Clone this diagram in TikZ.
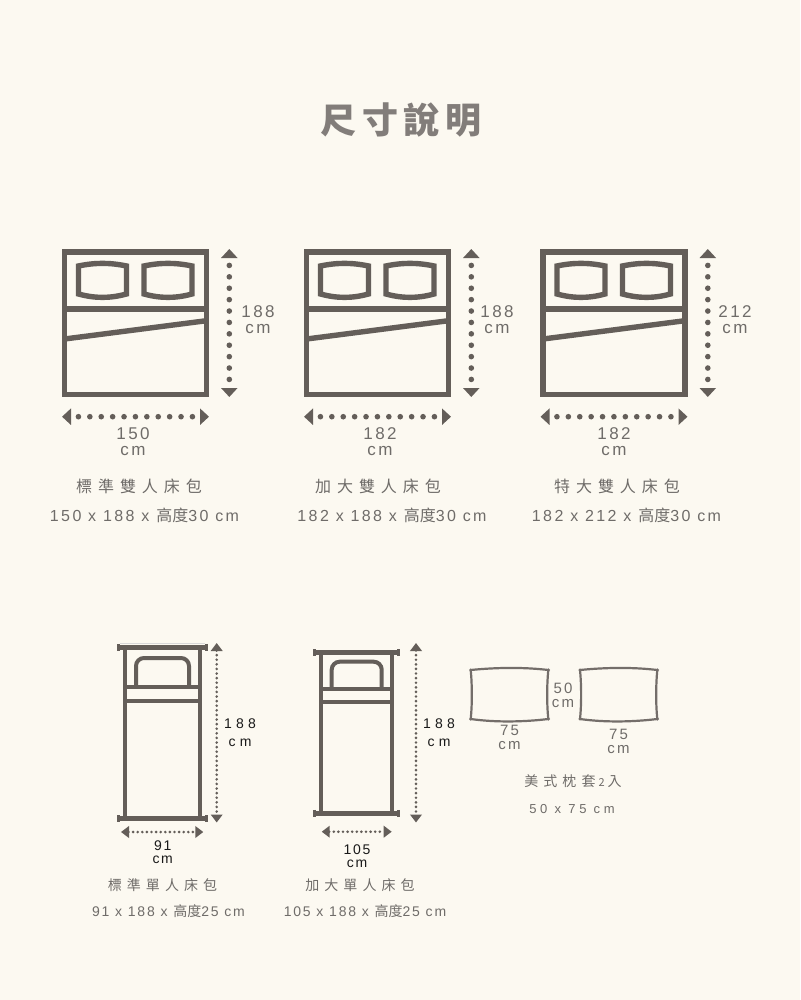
\documentclass[tikz,border=0pt]{standalone}
\usepackage{fontspec}
\setmainfont{Liberation Sans}
\newfontfamily\cjk{Noto Sans CJK TC}
\usetikzlibrary{arrows.meta}
\definecolor{paper}{HTML}{FCF9F1}
\definecolor{bedgrey}{HTML}{645E59}
\definecolor{textgrey}{HTML}{6F6C69}
\definecolor{titlegrey}{HTML}{827D7A}
\newcommand{\track}[1]{\addfontfeature{LetterSpace=#1}}
\tikzstyle{bedline} = [draw=bedgrey, line width=5.4pt, line join=miter]
\tikzstyle{singleline} = [draw=bedgrey, line width=4pt]
\tikzstyle{capline} = [draw=bedgrey, line width=5pt]
\tikzstyle{slipline} = [draw=bedgrey!90, line width=2.2pt, line join=round]
\tikzstyle{dimbig} = [draw=bedgrey, line width=5.6pt, line cap=round,
dash pattern=on 0pt off 11.4pt, dash phase=3.4pt,
{Triangle[width=16pt,length=9pt]}-{Triangle[width=16pt,length=9pt]}]
\tikzstyle{dimsmall} = [draw=bedgrey, line width=2.9pt, line cap=round,
dash pattern=on 0pt off 4.6pt,
{Triangle[width=11.5pt,length=8pt]}-{Triangle[width=11.5pt,length=8pt]}]
\tikzstyle{sizebig} = [text=textgrey, align=center, inner sep=0pt,
font=\fontsize{17}{16}\selectfont\track{14}]
\tikzstyle{sizesmall} = [text=black!90, align=center, inner sep=0pt,
font=\fontsize{14}{12.5}\selectfont\track{12}]
\tikzstyle{sizewide} = [text=black!90, align=center, inner sep=0pt,
font=\fontsize{14}{18}\selectfont\track{30}]
\tikzstyle{sizeslip} = [text=textgrey, align=center, inner sep=0pt,
font=\fontsize{15}{14}\selectfont\track{14}]
\tikzstyle{namebig} = [text=textgrey, inner sep=0pt, font=\cjk\fontsize{16}{16}\selectfont\track{37}]
\tikzstyle{specbig} = [text=textgrey, inner sep=0pt, font=\fontsize{16}{16}\selectfont\track{15}]
\tikzstyle{namesmall} = [text=textgrey, inner sep=0pt, font=\cjk\fontsize{14}{14}\selectfont\track{36}]
\tikzstyle{specsmall} = [text=textgrey, inner sep=0pt, font=\fontsize{14}{14}\selectfont\track{13}]
\begin{document}
\begin{tikzpicture}[x=1pt, y=-1pt]
\useasboundingbox [fill=paper] (0,0) rectangle (800,1000);

% Title
\node [text=titlegrey, inner sep=0pt, font=\cjk\bfseries\fontsize{36}{36}\selectfont\track{15}]
  (title) at (401,120) {尺寸說明};

% Double beds
\foreach \dx/\id/\wide/\high/\wx/\hx/\namex/\specx/\bedname/\spec in {
  0/a/150/188/133/258/139/144.5/標準雙人床包/{150 x 188 x {\cjk 高度}30 cm},
  242/b/182/188/138/255/136/150/加大雙人床包/{182 x 188 x {\cjk 高度}30 cm},
  478.5/c/182/212/135.5/256.5/138.5/148/特大雙人床包/{182 x 212 x {\cjk 高度}30 cm}} {
\begin{scope}[shift={(\dx,0)}]
  \draw [bedline] (64.5,252) rectangle (206.5,394.5);
  \draw [bedline] (64.5,309) -- (206.5,309);
  \draw [bedline] (64.5,339) -- (206.5,320.7);
  \foreach \px in {0,65.5} {
    \draw [bedline, xshift=\px pt] (78.5,266) .. controls (95,262.5) and (110,262.5) .. (126.5,266)
      -- (126.5,294) .. controls (110,298.5) and (95,298.5) .. (78.5,294) -- cycle;
  }
  \coordinate (\id top) at (229.3,249);
  \coordinate (\id bottom) at (229.3,397);
  \coordinate (\id left) at (62,416.7);
  \coordinate (\id right) at (209,416.7);
  \draw [dimbig] (\id top) -- (\id bottom);
  \draw [dimbig] (\id left) -- (\id right);
  \node [sizebig] (\id high) at (\hx,319.5) {\high\\cm};
  \node [sizebig] (\id wide) at (\wx,441.5) {\wide\\cm};
  \node [namebig] (\id name) at (\namex,486) {\bedname};
  \node [specbig] (\id spec) at (\specx,515) {\spec};
\end{scope}
}

% Single beds
\foreach \id/\l/\r/\t/\b/\bandb/\bandc/\pl/\pr/\pt/\vx/\hl/\hr/\hy/\lx/\wide/\wx/\wy/\namex/\specx/\bedname/\spec in {
  s/125/200/647.3/818.7/687.3/701/136/189/658/216.7/121/203.3/832/240/91/162.7/852/162.5/168.5/標準單人床包/{91 x 188 x {\cjk 高度}25 cm},
  l/320.7/392.3/652.7/813.3/689.3/702.3/331.7/381.7/661.7/416/321.7/391.7/831.7/439/105/357/856/360/365/加大單人床包/{105 x 188 x {\cjk 高度}25 cm}} {
  \draw [singleline] (\l,\t) -- (\l,\b);
  \draw [singleline] (\r,\t) -- (\r,\b);
  \draw [capline] (\l-7.5,\t) -- (\r+7.5,\t);
  \draw [capline] (\l-7.5,\b) -- (\r+7.5,\b);
  \draw [capline, line width=3pt] (\l-6.5,\t-3.5) -- (\l-6.5,\t+3.5);
  \draw [capline, line width=3pt] (\r+6.5,\t-3.5) -- (\r+6.5,\t+3.5);
  \draw [capline, line width=3pt] (\l-6.5,\b-3.5) -- (\l-6.5,\b+3.5);
  \draw [capline, line width=3pt] (\r+6.5,\b-3.5) -- (\r+6.5,\b+3.5);
  \draw [singleline] (\l,\bandb) -- (\r,\bandb);
  \draw [singleline] (\l,\bandc) -- (\r,\bandc);
  \draw [singleline, rounded corners=8pt] (\pl,\bandb) -- (\pl,\pt) -- (\pr,\pt) -- (\pr,\bandb);
  \coordinate (\id top) at (\vx,643);
  \coordinate (\id bottom) at (\vx,822.5);
  \coordinate (\id left) at (\hl,\hy);
  \coordinate (\id right) at (\hr,\hy);
  \draw [dimsmall] (\id top) -- (\id bottom);
  \draw [dimsmall] (\id left) -- (\id right);
  \node [sizewide] (\id high) at (\lx,733) {188\\cm};
  \node [sizesmall] (\id wide) at (\wx,\wy) {\wide\\cm};
  \node [namesmall] (\id name) at (\namex,885) {\bedname};
  \node [specsmall] (\id spec) at (\specx,911) {\spec};
}
\draw [draw=black!15, line width=1pt] (120,643.3) -- (205,643.3);

% Pillow slips
\foreach \id/\l/\r in {p/470.7/548.3, q/580/657.3} {
  \draw [slipline] (\l,670) .. controls (\l+25,667.5) and (\r-25,667) .. (\r,670)
    .. controls (\r-1.5,685) and (\r-1.5,705) .. (\r,719)
    .. controls (\r-25,722) and (\l+25,722.5) .. (\l,719)
    .. controls (\l+1.5,705) and (\l+1.5,685) .. (\l,670) -- cycle;
  \foreach \cx/\cy in {\l/670,\r/670,\l/719,\r/719}
    \fill [bedgrey!90] (\cx,\cy) circle (1.7);
}
\node [sizeslip] (slip high) at (563,695) {50\\cm};
\node [sizeslip] (slip wide) at (509.5,737.5) {75\\cm};
\node [sizeslip] (slip wide two) at (618.5,741) {75\\cm};
\node [namesmall] (slip name) at (573,781) {美式枕套\hspace{3pt}{\fontsize{11}{11}\selectfont 2}\hspace{3pt}入};
\node [specsmall, font=\fontsize{13}{13}\selectfont\track{28}] (slip spec) at (572,809) {50 x 75 cm};
\end{tikzpicture}
\end{document}
